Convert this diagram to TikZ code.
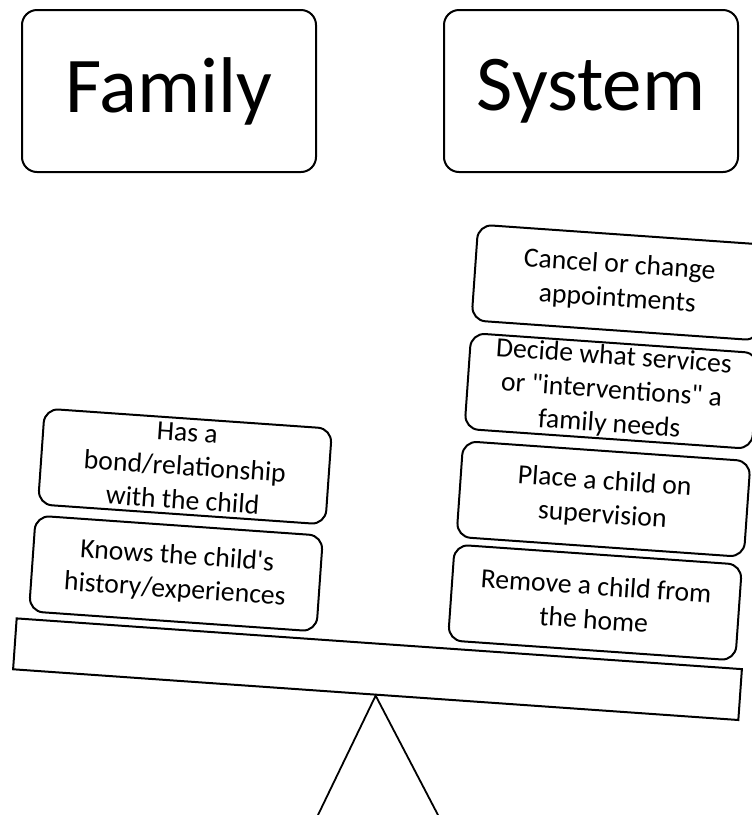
\documentclass[tikz,border=0pt]{standalone}
\usepackage{fontspec}
\setmainfont{Carlito}[Ligatures=TeXOff]
\begin{document}
\begin{tikzpicture}[x=1pt,y=-1pt,
  bigbox/.style={draw, line width=2pt, rounded corners=15pt, minimum width=294pt, minimum height=162pt, inner sep=0pt, font=\fontsize{79}{90}\selectfont},
  card/.style={draw, line width=2pt, rounded corners=14pt, minimum width=288pt, minimum height=96pt, inner sep=0pt, rotate=-4, align=center, font=\fontsize{27.7}{33.8}\selectfont},
  beamstyle/.style={draw, line width=2pt, minimum width=727pt, minimum height=51pt, inner sep=0pt, rotate=-4},
  legstyle/.style={line width=1.8pt}]
\useasboundingbox (0,0) rectangle (752,815);
\node[bigbox] (family) at (169,91) {Family};
\node[bigbox] (system) at (591,91) {System};
\node[card] (bond) at (185,466.5) {Has a\\bond/relationship\\with the child};
\node[card] (knows) at (176,573.5) {Knows the child's\\history/experiences};
\node[card] (cancel) at (618.5,282.5) {Cancel or change\\appointments};
\node[card] (decide) at (611.5,391) {Decide what services\\or "interventions" a\\family needs};
\node[card] (place) at (603.5,499) {Place a child on\\supervision};
\node[card] (remove) at (595,602.5) {Remove a child from\\the home};
\node[beamstyle] (beam) at (377.5,669.2) {};
\coordinate (legL) at (318,815);
\coordinate (legR) at (438,815);
\draw[legstyle] (legL) -- (beam.south) -- (legR);
\end{tikzpicture}
\end{document}
